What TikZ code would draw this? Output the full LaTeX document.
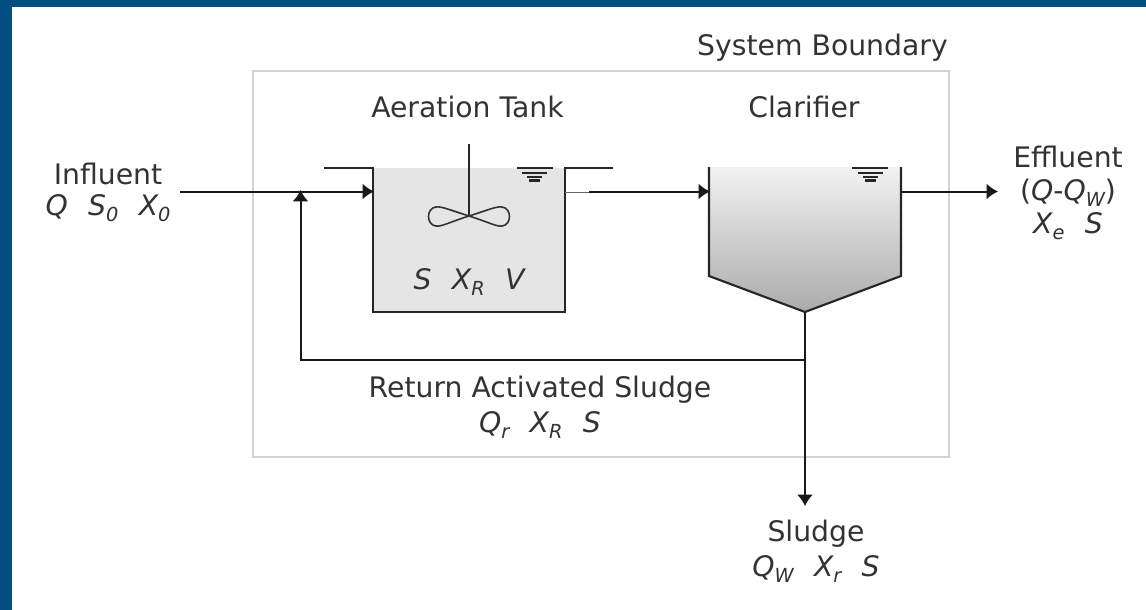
\documentclass[tikz,border=0pt]{standalone}
\usepackage{fontspec}
\setmainfont{DejaVu Sans}
\usetikzlibrary{arrows.meta}
\definecolor{frameblue}{HTML}{004E82}
\definecolor{txt}{HTML}{333333}
\definecolor{boundary}{HTML}{D2D2D2}
\newcommand{\sbs}[1]{\raisebox{-0.2em}{\fontsize{14.5}{16}\selectfont\itshape #1}}
\newcommand{\gapp}{\hspace{0.72em}}
\tikzset{
  x=0.75pt,y=-0.75pt,
  lbl/.style={font=\fontsize{21.2}{24}\selectfont,text=txt,align=center,inner sep=0pt},
  var/.style={lbl,font=\fontsize{21.2}{24}\selectfont\itshape},
  pipe/.style={draw=black!90,line width=1.5pt},
  flow/.style={pipe,-{Latex[length=8.5pt,width=12pt]}},
  wall/.style={draw=black!85,line width=1.6pt},
  lev/.style={draw=black!85,line width=1.7pt},
}
\begin{document}
\begin{tikzpicture}
\useasboundingbox (0,0) rectangle (1146,610);
\fill[frameblue] (0,0) rectangle (1146,610);
\fill[white] (12,7) rectangle (1146,610);
% boundary
\node[draw=boundary,line width=1.5pt,minimum width=0.75pt*696.5,minimum height=0.75pt*385,inner sep=0pt,anchor=north west,outer sep=0pt] (bound) at (252.5,71.5) {};
% tank
\fill[black!10] (373,168) rectangle (565,312);
\coordinate (tankTL) at (373,168);
\coordinate (tankTR) at (565,168);
\coordinate (tankBL) at (373,312);
\coordinate (tankBR) at (565,312);
\coordinate (rimL) at (324,168);
\coordinate (rimR) at (613,168);
\draw[wall,line join=miter] (rimL) -- (tankTL) -- (tankBL) -- (tankBR) -- (tankTR) -- (rimR);
% mixer
\coordinate (shaftT) at (469,144);
\coordinate (hub) at (469,216);
\draw[lev] (shaftT) -- (hub);
\draw[draw=black!80,line width=1.2pt] (hub) .. controls (450,210) and (441,206) .. (436,207) .. controls (426,208) and (426,225) .. (436,226) .. controls (441,227) and (450,222) .. (hub)
  .. controls (488,210) and (497,206) .. (502,207) .. controls (512,208) and (512,225) .. (502,226) .. controls (497,227) and (488,222) .. (hub);
% level marks
\draw[lev] (516.5,168)--(552.5,168) (522,172.7)--(547,172.7) (527,176.7)--(542,176.7) (529,180.5)--(540,180.5);
% clarifier
\shade[top color=black!5,bottom color=black!33] (709,167) -- (901,167) -- (901,276) -- (805,312) -- (709,276) -- cycle;
\coordinate (clTL) at (709,167);
\coordinate (clTR) at (901,167);
\coordinate (clL) at (709,276);
\coordinate (clR) at (901,276);
\coordinate (tip) at (805,312);
\draw[wall,line join=miter] (clTL) -- (clL) -- (tip) -- (clR) -- (clTR);
\draw[lev] (852,168)--(888,168) (858,172.7)--(883,172.7) (863,176.7)--(878,176.7) (865,180.5)--(876,180.5);
% flows
\coordinate (inS) at (180,191.5);
\coordinate (inE) at (374,191.5);
\coordinate (stubS) at (565,192.5);
\coordinate (stubE) at (590,192.5);
\coordinate (feedS) at (589,191.5);
\coordinate (feedE) at (710,191.5);
\coordinate (effS) at (901,191.5);
\coordinate (effE) at (998,191.5);
\coordinate (wasE) at (805,506);
\coordinate (junc) at (805,360);
\coordinate (retC) at (300.5,360);
\coordinate (retE) at (300.5,190);
\draw[flow] (inS) -- (inE);
\draw[draw=black!60,line width=1.3pt] (stubS) -- (stubE);
\draw[flow] (feedS) -- (feedE);
\draw[flow] (effS) -- (effE);
\draw[flow] (tip) -- (wasE);
\draw[flow] (junc) -- (retC) -- (retE);
% labels
\node[lbl] (sysb) at (822.5,47.5) {System Boundary};
\node[lbl] (aer) at (467.5,107) {Aeration Tank};
\node[lbl] (cla) at (804,107) {Clarifier};
\node[lbl] (infl) at (108,174) {Influent};
\node[var] (infv) at (108,208) {Q\gapp S\sbs{0}\gapp X\sbs{0}};
\node[lbl] (effl) at (1068,157) {Effluent};
\node[lbl] (effq) at (1068,193) {(\textit{Q}-\textit{Q}\sbs{W})};
\node[var] (effv) at (1068,226) {X\sbs{e}\gapp S};
\node[var] (tankv) at (469,282) {S\gapp X\sbs{R}\gapp V};
\node[lbl] (ret) at (540,390) {Return Activated Sludge};
\node[var] (retv) at (540,425) {Q\sbs{r}\gapp X\sbs{R}\gapp S};
\node[lbl] (slu) at (816,534) {Sludge};
\node[var] (sluv) at (816,569) {Q\sbs{W}\gapp X\sbs{r}\gapp S};
\end{tikzpicture}
\end{document}
